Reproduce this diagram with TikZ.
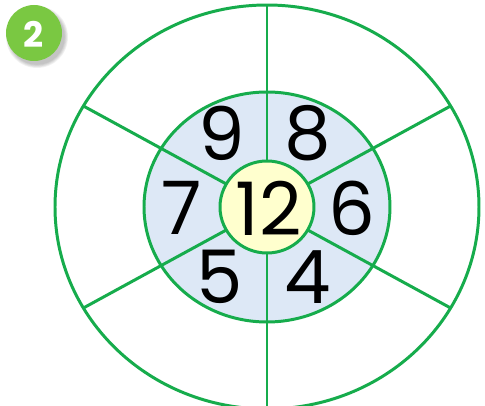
\documentclass[tikz,border=0pt]{standalone}
\usepackage{fontspec}
\setmainfont{Poppins}
\usetikzlibrary{calc}
\definecolor{ringgreen}{RGB}{22,172,76}
\definecolor{ringblue}{RGB}{221,232,246}
\definecolor{hubyellow}{RGB}{255,255,206}
\definecolor{badgegreen}{RGB}{122,200,66}

\begin{document}
\begin{tikzpicture}[
        x=0.02cm, y=0.02cm,
        ring/.style={draw=ringgreen, line width=1.7pt},
        num/.style={inner sep=0pt, font=\fontsize{42}{42}\selectfont}
    ]

    \useasboundingbox (0,0) rectangle (485,406);
    \clip (0,0) rectangle (485,406);

    % centre of the wheel
    \coordinate (O) at (267,199);

    % badge with shadow
    \foreach \k in {1,...,5} {
        \fill[black, opacity=0.05] (37,369) circle (27+\k*0.8);
    }
    \fill[badgegreen] (34,373) circle (28);
    \node[text=white, inner sep=0pt, font=\bfseries\fontsize{20}{20}\selectfont] (badge) at (34,372) {2};

    % rings
    \draw[ring, fill=white] (O) ellipse [x radius=212, y radius=202];
    \fill[ringblue] (O) ellipse [x radius=123, y radius=115];

    % spokes
    \foreach \a in {30,90,...,330} {
        \draw[ring] ($(O)+(\a:47 and 46)$) -- ($(O)+(\a:212 and 202)$);
    }

    \draw[ring] (O) ellipse [x radius=123, y radius=115];
    \draw[ring, fill=hubyellow] (O) ellipse [x radius=47, y radius=46];

    % numbers
    \node[num] (hub) at (269,198) {12};
    \foreach \n/\p in {9/{222,273}, 8/{308,273}, 7/{182,198},
                       6/{352,198}, 5/{220,129}, 4/{308,129}} {
        \node[num] (n\n) at (\p) {\n};
    }

\end{tikzpicture}
\end{document}
